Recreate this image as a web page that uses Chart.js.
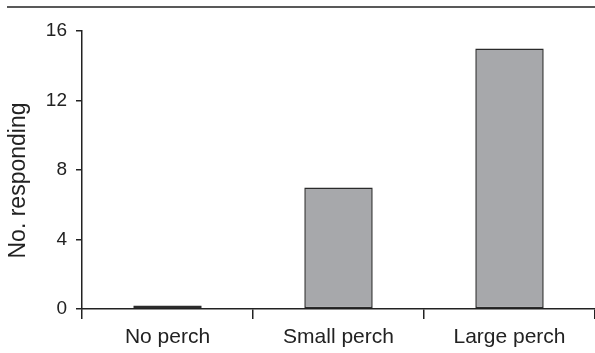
<!DOCTYPE html>
<html>
<head>
<meta charset="utf-8">
<script src="https://cdn.jsdelivr.net/npm/chart.js@4"></script>
<style>
  html, body { margin: 0; padding: 0; background: #fff; }
  #wrap { width: 595px; height: 353px; position: relative; }
</style>
</head>
<body>
<div id="wrap"><canvas id="perchChart"></canvas></div>
<script>
// donnees
const categories = ['No perch', 'Small perch', 'Large perch'];
const responding = [0.2, 7, 15];
const yTicks = [0, 4, 8, 12, 16];
const yTitle = 'No. responding';

const ink = '#222222';
const fontFamily = "'Liberation Sans', Arial, sans-serif";

// trait horizontal en haut + titre de l'axe y (centre sur la figure, pas sur l'axe)
const decorations = {
    id: 'decorations',
    afterDraw(chart) {
        const ctx = chart.ctx;
        ctx.save();
        ctx.strokeStyle = ink;
        ctx.lineWidth = 1.5;
        ctx.beginPath();
        ctx.moveTo(7, 7);
        ctx.lineTo(595, 7);
        ctx.stroke();

        ctx.translate(19, 180.5);
        ctx.rotate(-Math.PI / 2);
        ctx.fillStyle = ink;
        ctx.font = '23px ' + fontFamily;
        ctx.textAlign = 'center';
        ctx.textBaseline = 'middle';
        ctx.fillText(yTitle, 0, 0);
        ctx.restore();
    }
};

const ctx = document.getElementById('perchChart').getContext('2d');

new Chart(ctx, {
    type: 'bar',
    data: {
        labels: categories,
        datasets: [{
            label: yTitle,
            data: responding,
            backgroundColor: '#a7a8ab',
            borderColor: '#2b2b2b',
            borderWidth: 1.5,
            borderSkipped: false,
            categoryPercentage: 1,
            barPercentage: 0.4
        }]
    },
    options: {
        responsive: true,
        maintainAspectRatio: false,
        animation: false,
        layout: {
            padding: { top: 31, right: 0, bottom: 0, left: 0 }
        },
        plugins: {
            legend: { display: false },
            tooltip: { enabled: false }
        },
        scales: {
            x: {
                grid: {
                    offset: true,
                    drawOnChartArea: false,
                    color: ink,
                    lineWidth: 1.5,
                    tickLength: 10
                },
                border: { color: ink, width: 1.5 },
                ticks: {
                    color: ink,
                    font: { family: fontFamily, size: 21 },
                    padding: 6,
                    maxRotation: 0
                },
                afterFit(scale) {
                    scale.height = 44;
                }
            },
            y: {
                min: 0,
                max: 16,
                afterBuildTicks(scale) {
                    scale.ticks = yTicks.map(v => ({ value: v }));
                },
                grid: {
                    drawOnChartArea: false,
                    color: ink,
                    lineWidth: 1.5,
                    tickLength: 6
                },
                border: { color: ink, width: 1.5 },
                ticks: {
                    color: ink,
                    font: { family: fontFamily, size: 19 },
                    padding: 9
                },
                afterFit(scale) {
                    scale.width = 82;
                }
            }
        }
    },
    plugins: [decorations]
});
</script>
</body>
</html>
